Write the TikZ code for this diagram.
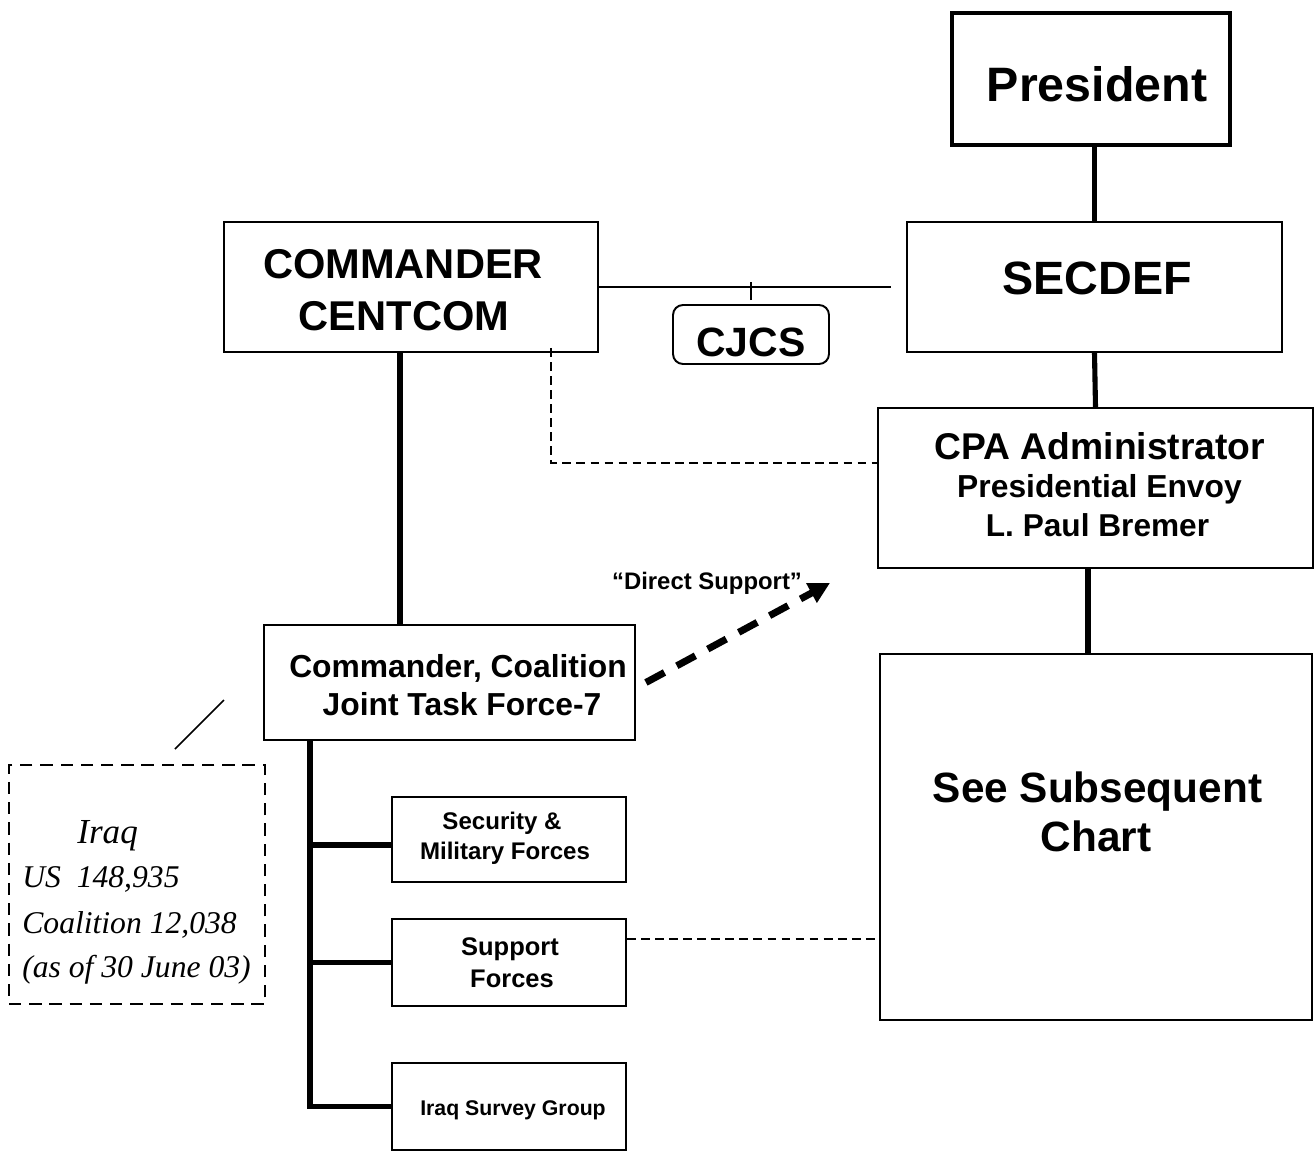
\documentclass[tikz,border=0pt]{standalone}
\usepackage{fontspec}
\setmainfont{Liberation Sans}
\newfontfamily\timesit{Liberation Serif}
\usetikzlibrary{arrows.meta}
\newcommand\fsz[1]{\fontsize{#1}{#1}\selectfont}
\begin{document}
\begin{tikzpicture}[x=0.02cm,y=-0.02cm,
  box/.style={draw, line width=1.1pt, inner sep=0pt},
  lbl/.style={inner sep=0pt, anchor=base},
  ital/.style={inner sep=0pt, anchor=base west, font=\timesit\itshape\fsz{18}},
  thickln/.style={line width=2.9pt},
  thinln/.style={line width=0.9pt},
  dashln/.style={line width=0.8pt, dash pattern=on 5pt off 3pt},
  dsarrow/.style={line width=4pt, dash pattern=on 12pt off 8pt, -{Triangle[length=12pt,width=12pt]}}
]
\useasboundingbox[fill=white] (0,0) rectangle (1315,1152);

% boxes
\node[box, line width=2.3pt, minimum width=5.56cm, minimum height=2.64cm] (pres) at (1091,79) {};
\node[box, minimum width=7.5cm, minimum height=2.6cm] (secdef) at (1094.5,287) {};
\node[box, minimum width=7.48cm, minimum height=2.6cm] (centcom) at (411,287) {};
\node[box, rounded corners=0.2cm, minimum width=3.12cm, minimum height=1.18cm] (cjcs) at (751,334.5) {};
\node[box, minimum width=8.7cm, minimum height=3.2cm] (cpa) at (1095.5,488) {};
\node[box, minimum width=7.42cm, minimum height=2.3cm] (cjtf) at (449.5,682.5) {};
\node[box, minimum width=8.64cm, minimum height=7.32cm] (sub) at (1096,837) {};
\node[box, minimum width=4.68cm, minimum height=1.7cm] (sec) at (509,839.5) {};
\node[box, minimum width=4.68cm, minimum height=1.74cm] (sup) at (509,962.5) {};
\node[box, minimum width=4.68cm, minimum height=1.74cm] (isg) at (509,1106.5) {};
\node[box, dash pattern=on 7pt off 4.5pt, minimum width=5.12cm, minimum height=4.78cm] (iraq) at (137,884.5) {};

% texts
\node[lbl, font=\bfseries\fsz{27.5}] (tpres) at (1097,102) {President};
\node[lbl, font=\bfseries\fsz{26.6}] (tsec) at (1097,295) {SECDEF};
\node[lbl, font=\bfseries\fsz{23.7}] (tcc1) at (403,278) {COMMANDER};
\node[lbl, font=\bfseries\fsz{23.7}] (tcc2) at (404,330) {CENTCOM};
\node[lbl, font=\bfseries\fsz{23.3}] (tcj) at (751,356) {CJCS};
\node[lbl, font=\bfseries\fsz{21.2}] (tcpa1) at (1100,459) {CPA Administrator};
\node[lbl, font=\bfseries\fsz{18.1}] (tcpa2) at (1099.5,497) {Presidential Envoy};
\node[lbl, font=\bfseries\fsz{18}] (tcpa3) at (1097.5,536) {L. Paul Bremer};
\node[lbl, font=\bfseries\fsz{13.6}] (tds) at (707,589) {“Direct Support”};
\node[lbl, font=\bfseries\fsz{18.1}] (tjt1) at (458,677) {Commander, Coalition};
\node[lbl, font=\bfseries\fsz{18.1}] (tjt2) at (462,715) {Joint Task Force-7};
\node[lbl, font=\bfseries\fsz{13.7}] (tsec1) at (502,829) {Security \&};
\node[lbl, font=\bfseries\fsz{13.7}] (tsec2) at (505,859) {Military Forces};
\node[lbl, font=\bfseries\fsz{14.5}] (tsup1) at (510,955) {Support};
\node[lbl, font=\bfseries\fsz{14.5}] (tsup2) at (512,987) {Forces};
\node[lbl, font=\bfseries\fsz{12.1}] (tisg) at (513,1115) {Iraq Survey Group};
\node[lbl, font=\bfseries\fsz{24.1}] (tsub1) at (1097.5,802) {See Subsequent};
\node[lbl, font=\bfseries\fsz{24.1}] (tsub2) at (1096,851) {Chart};
\node[ital, font=\timesit\itshape\fsz{20}] (tiq1) at (77,843) {Iraq};
\node[ital] (tiq2) at (22,887) {US\ \ 148,935};
\node[ital] (tiq3) at (22,933) {Coalition 12,038};
\node[ital] (tiq4) at (22,977) {(as of 30 June 03)};

% connectors
\draw[thickln] (pres.south -| secdef.north) -- (secdef.north);
\draw[thinln, shorten >=0.3cm] (centcom.east) -- (centcom.east -| secdef.west);
\draw[thinln] (cjcs.north) ++(0,-4) -- ++(0,-18);
\draw[thickln] (secdef.south) -- (cpa.north);
\draw[dashln] ([xshift=2.8cm,yshift=0.1cm]centcom.south) |- ([yshift=0.5cm]cpa.west);
\draw[thickln] ([xshift=-0.22cm]centcom.south) coordinate (c1) -- (c1 |- cjtf.north);
\coordinate (dsend) at (830,583);
\draw[dsarrow] ([xshift=0.2cm]cjtf.east) -- (dsend);
\draw[thickln] ([xshift=-0.15cm]cpa.south) coordinate (c2) -- (c2 |- sub.north);
\path ([yshift=0.47cm]sup.east) coordinate (s1);
\draw[dashln] (s1) -- (s1 -| sub.west);
\draw[thickln, line join=miter] ([xshift=-2.79cm]cjtf.south) coordinate (tr) -- (tr |- isg.west) -- (isg.west);
\path ([yshift=-0.11cm]sec.west) coordinate (s2);
\draw[thickln] (tr |- s2) -- (s2);
\draw[thickln] (tr |- sup.west) -- (sup.west);
\coordinate (d1) at (175,749);
\coordinate (d2) at (224,700);
\draw[thinln] (d1) -- (d2);
\end{tikzpicture}
\end{document}
